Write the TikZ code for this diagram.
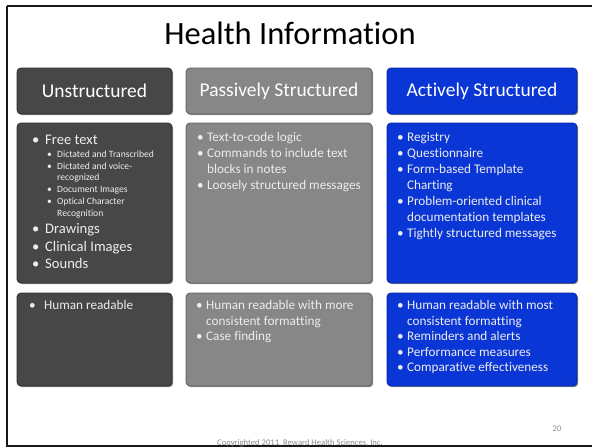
\documentclass[tikz,border=0pt]{standalone}
\usepackage{fontspec}
\setmainfont[Ligatures={NoCommon}]{Carlito}
\usetikzlibrary{shadows}
\definecolor{darkfill}{HTML}{474747}
\definecolor{darkedge}{HTML}{2E2E2E}
\definecolor{grayfill}{HTML}{878787}
\definecolor{grayedge}{HTML}{5E5E5E}
\definecolor{bluefill}{HTML}{0A36D6}
\definecolor{blueedge}{HTML}{0622A0}
\definecolor{bodytext}{HTML}{EDEDED}
\definecolor{foot}{HTML}{8C8C8C}
\tikzset{
  panel/.style={rounded corners=4pt, line width=0.8pt,
    drop shadow={shadow xshift=1.2pt, shadow yshift=-1.2pt, opacity=0.45, fill=black}},
  darkpanel/.style={panel, fill=darkfill, draw=darkedge},
  graypanel/.style={panel, fill=grayfill, draw=grayedge},
  bluepanel/.style={panel, fill=bluefill, draw=blueedge},
  head/.style={text=white, font=\fontsize{19.5}{22}\selectfont},
  line/.style={anchor=base west, inner sep=0pt, text=bodytext},
  big/.style={line, font=\fontsize{14.6}{17}\selectfont},
  small/.style={line, font=\fontsize{9.6}{11}\selectfont},
  mid/.style={line, font=\fontsize{13.2}{16}\selectfont},
}
\newcommand{\bul}[1]{\makebox[#1][l]{•}}
\begin{document}
\begin{tikzpicture}[x=1pt, y=-1pt]
\useasboundingbox (0,0) rectangle (592,447);
\fill[white] (0,0) rectangle (592,447);
% slide frame
\draw[line width=2pt, black!90] (7,6) -- (600,6);
\draw[line width=2pt, black!90] (7,6) -- (7,446) -- (600,446);
% title
\node[anchor=base, inner sep=0pt, font=\fontsize{32.5}{36}\selectfont] (title) at (290,45) {Health Information};
% header boxes
\path[darkpanel] (17,68) rectangle (172,114);
\path[graypanel] (186,68) rectangle (372,114);
\path[bluepanel] (387,68) rectangle (577,114);
\node[head] (h1) at (94.5,91) {Unstructured};
\node[head] (h2) at (279,91) {Passively Structured};
\node[head] (h3) at (482,91) {Actively Structured};
% middle boxes
\path[darkpanel] (17,123) rectangle (172,283);
\path[graypanel] (186,123) rectangle (372,283);
\path[bluepanel] (387,123) rectangle (577,283);
% bottom boxes
\path[darkpanel] (17,293) rectangle (172,386);
\path[graypanel] (186,293) rectangle (372,386);
\path[bluepanel] (387,293) rectangle (577,386);
% unstructured middle
\node[big] (u1) at (32,144) {\bul{13pt}Free text};
\node[small] (u2) at (47,157.5) {\bul{10pt}Dictated and Transcribed};
\node[small] (u3) at (47,169) {\bul{10pt}Dictated and voice-};
\node[small] (u4) at (57,180.5) {recognized};
\node[small] (u5) at (47,192.5) {\bul{10pt}Document Images};
\node[small] (u6) at (47,204.5) {\bul{10pt}Optical Character};
\node[small] (u7) at (57,216) {Recognition};
\node[big] (u8) at (32,233) {\bul{13pt}Drawings};
\node[big] (u9) at (32,251) {\bul{13pt}Clinical Images};
\node[big] (u10) at (32,268) {\bul{13pt}Sounds};
% passive middle
\node[mid] (p1) at (197,141.5) {\bul{10pt}Text-to-code logic};
\node[mid] (p2) at (197,157.5) {\bul{10pt}Commands to include text};
\node[mid] (p3) at (207,173.5) {blocks in notes};
\node[mid] (p4) at (197,189.5) {\bul{10pt}Loosely structured messages};
% active middle
\node[mid] (a1) at (397,141.5) {\bul{10pt}Registry};
\node[mid] (a2) at (397,157.5) {\bul{10pt}Questionnaire};
\node[mid] (a3) at (397,173.5) {\bul{10pt}Form-based Template};
\node[mid] (a4) at (407,189.5) {Charting};
\node[mid] (a5) at (397,205.5) {\bul{10pt}Problem-oriented clinical};
\node[mid] (a6) at (407,221.5) {documentation templates};
\node[mid] (a7) at (397,237.5) {\bul{10pt}Tightly structured messages};
% bottom rows
\node[mid] (ub1) at (29,309.5) {\bul{15pt}Human readable};
\node[mid] (pb1) at (196,309.5) {\bul{10pt}Human readable with more};
\node[mid] (pb2) at (206,325) {consistent formatting};
\node[mid] (pb3) at (196,340.5) {\bul{10pt}Case finding};
\node[mid] (ab1) at (397,309.5) {\bul{10pt}Human readable with most};
\node[mid] (ab2) at (407,325) {consistent formatting};
\node[mid] (ab3) at (397,340.5) {\bul{10pt}Reminders and alerts};
\node[mid] (ab4) at (397,356) {\bul{10pt}Performance measures};
\node[mid] (ab5) at (397,371.5) {\bul{10pt}Comparative effectiveness};
% footer
\node[anchor=base, inner sep=0pt, text=foot, font=\fontsize{8.6}{10}\selectfont] (copy) at (300,445) {Copyrighted 2011, Reward Health Sciences, Inc.};
\node[anchor=base, inner sep=0pt, text=foot, font=\fontsize{8.5}{10}\selectfont] (page) at (557,431) {20};
\end{tikzpicture}
\end{document}
